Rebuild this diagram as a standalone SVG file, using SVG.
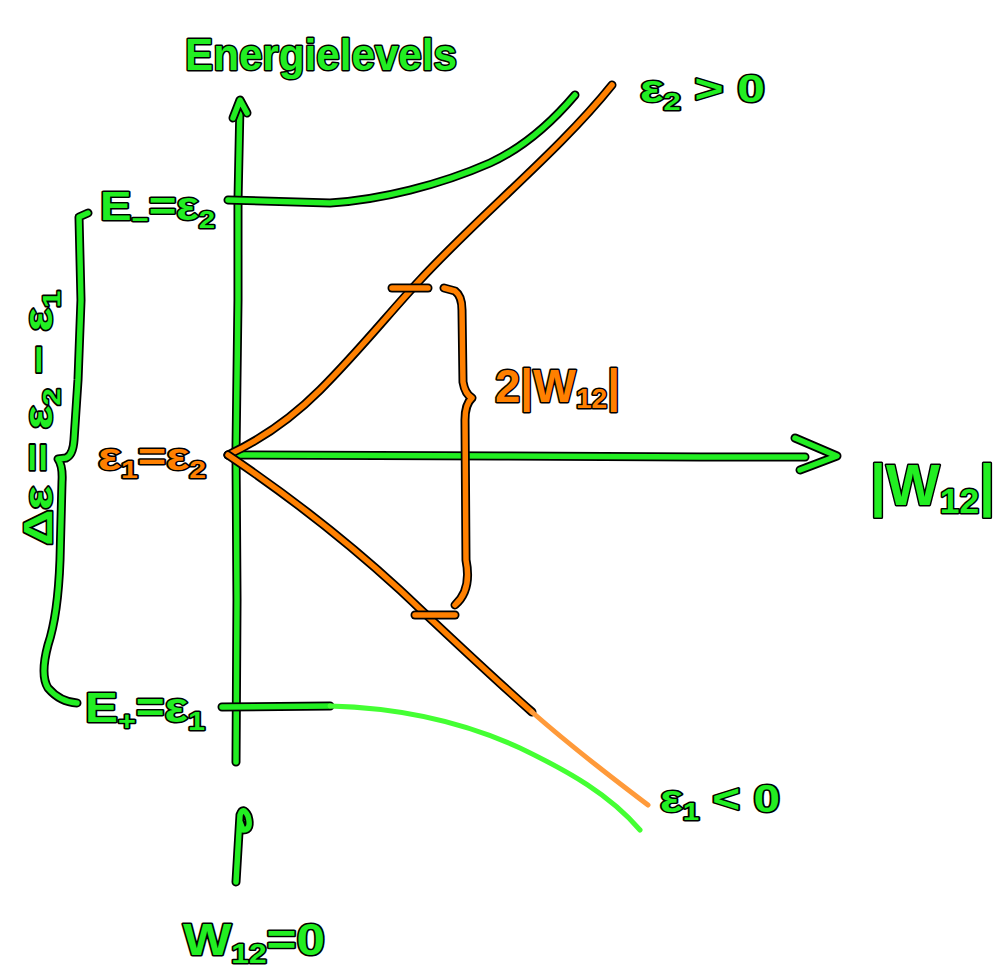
<svg xmlns="http://www.w3.org/2000/svg" xmlns:xlink="http://www.w3.org/1999/xlink" width="999" height="975" viewBox="0 0 999 975">
<style>
.ol{fill:none;stroke:#000;stroke-width:9;stroke-linecap:round;stroke-linejoin:round}
.gr{fill:none;stroke:#22ee22;stroke-width:5.5;stroke-linecap:round;stroke-linejoin:round}
.lg{fill:none;stroke:#44ff33;stroke-width:5;stroke-linecap:round;stroke-linejoin:round}
.og{fill:none;stroke:#ff8000;stroke-width:5.5;stroke-linecap:round;stroke-linejoin:round}
.ogs{fill:none;stroke:#ff9a3a;stroke-width:5;stroke-linecap:round}
.t{font-family:"Liberation Sans","DejaVu Sans",sans-serif;font-weight:bold;fill:#22ee22;stroke:#000;stroke-width:3;paint-order:stroke;stroke-linejoin:round}
.to{fill:#ff8000}
.s{font-size:0.62em}
</style>
<defs>
<path id="vaxis" d="M236,762 L237,600 L236,450 L238,300 L238,200 L240,104"/>
<path id="vhead" d="M233,118 L240,100 L247,113"/>
<path id="haxis" d="M228,455 L500,456 L700,457 L805,457"/>
<path id="hhead" d="M795,438 L837,456 L800,470"/>
<path id="up" d="M228,200 L330,203 C380,200 440,185 490,163 C525,147 552,122 575,95"/>
<path id="low0" d="M222,707 L330,706"/>
<path id="low1" d="M330,706 C410,708 470,725 520,748 C570,772 610,795 640,830"/>
<path id="oup" d="M228,455 C260,440 290,420 320,390 C360,350 390,312 420,280 C480,215 560,150 612,85"/>
<path id="olow" d="M228,455 C280,490 340,535 400,590 C450,637 490,675 532,712"/>
<path id="olow2" d="M532,712 C575,750 615,780 648,805"/>
<path id="tick1" d="M392,288 L428,288"/>
<path id="tick2" d="M415,615 L455,615"/>
<path id="obrace" d="M444,288 L455,291 Q462,296 462,310 L463,382 Q465,394 472,398 Q465,404 465,420 L466,560 Q472,590 455,605"/>
<path id="gbrace" d="M88,213 L79,217 L81,300 L78,380 L74,440 Q73,455 66,458 L58,459 Q63,466 62,482 L60,560 Q58,615 48,645 Q40,675 48,688 Q60,702 77,703"/>
<path id="barrow" d="M236,882 L240,815 Q243,806 248,816 Q252,830 243,830 L240,822"/>
</defs>
<g id="connectors">
<use xlink:href="#vaxis" class="ol"/><use xlink:href="#vaxis" class="gr"/>
<use xlink:href="#vhead" class="ol"/><use xlink:href="#vhead" class="gr"/>
<use xlink:href="#haxis" class="ol"/><use xlink:href="#haxis" class="gr"/>
<use xlink:href="#hhead" class="ol"/><use xlink:href="#hhead" class="gr"/>
<use xlink:href="#up" class="ol"/><use xlink:href="#up" class="gr"/>
<use xlink:href="#low0" class="ol"/><use xlink:href="#low0" class="gr"/>
<use xlink:href="#low1" class="lg"/>
<use xlink:href="#oup" class="ol"/><use xlink:href="#oup" class="og"/>
<use xlink:href="#olow" class="ol"/><use xlink:href="#olow" class="og"/>
<use xlink:href="#olow2" class="ogs"/>
<use xlink:href="#tick1" class="ol"/><use xlink:href="#tick1" class="og"/>
<use xlink:href="#tick2" class="ol"/><use xlink:href="#tick2" class="og"/>
<use xlink:href="#obrace" class="ol"/><use xlink:href="#obrace" class="og"/>
<use xlink:href="#gbrace" class="ol"/><use xlink:href="#gbrace" class="gr"/>
<use xlink:href="#barrow" class="ol"/><use xlink:href="#barrow" class="gr"/>
</g>
<g id="title"><text class="t" x="185" y="70" font-size="44" textLength="272" lengthAdjust="spacingAndGlyphs">Energielevels</text></g>
<g id="label-Eminus"><text class="t" x="100" y="220" font-size="40" textLength="115" lengthAdjust="spacingAndGlyphs">E<tspan class="s" dy="8">−</tspan><tspan dy="-8">=ε</tspan><tspan class="s" dy="8">2</tspan></text></g>
<g id="label-e2pos"><text class="t" x="640" y="102" font-size="38" textLength="125" lengthAdjust="spacingAndGlyphs">ε<tspan class="s" dy="8">2</tspan><tspan dy="-8"> &gt; 0</tspan></text></g>
<g id="label-2W"><text class="t to" x="495" y="402" font-size="46" textLength="125" lengthAdjust="spacingAndGlyphs">2|W<tspan class="s" dy="6">12</tspan><tspan dy="-6">|</tspan></text></g>
<g id="label-e1e2"><text class="t to" x="98" y="470" font-size="38" textLength="108" lengthAdjust="spacingAndGlyphs">ε<tspan class="s" dy="8">1</tspan><tspan dy="-8">=ε</tspan><tspan class="s" dy="8">2</tspan></text></g>
<g id="label-W12"><text class="t" x="870" y="505" font-size="58" textLength="125" lengthAdjust="spacingAndGlyphs">|W<tspan class="s" dy="8">12</tspan><tspan dy="-8">|</tspan></text></g>
<g id="label-Eplus"><text class="t" x="85" y="722" font-size="42" textLength="120" lengthAdjust="spacingAndGlyphs">E<tspan class="s" dy="8">+</tspan><tspan dy="-8">=ε</tspan><tspan class="s" dy="8">1</tspan></text></g>
<g id="label-e1neg"><text class="t" x="660" y="812" font-size="38" textLength="120" lengthAdjust="spacingAndGlyphs">ε<tspan class="s" dy="8">1</tspan><tspan dy="-8"> &lt; 0</tspan></text></g>
<g id="label-W0"><text class="t" x="183" y="955" font-size="44" textLength="142" lengthAdjust="spacingAndGlyphs">W<tspan class="s" dy="8">12</tspan><tspan dy="-8">=0</tspan></text></g>
<g id="label-delta"><text class="t" transform="translate(52,418) rotate(-90)" x="0" y="0" text-anchor="middle" font-size="40" textLength="255" lengthAdjust="spacingAndGlyphs">Δε = ε<tspan class="s" dy="8">2</tspan><tspan dy="-8"> − ε</tspan><tspan class="s" dy="8">1</tspan></text></g>
</svg>
